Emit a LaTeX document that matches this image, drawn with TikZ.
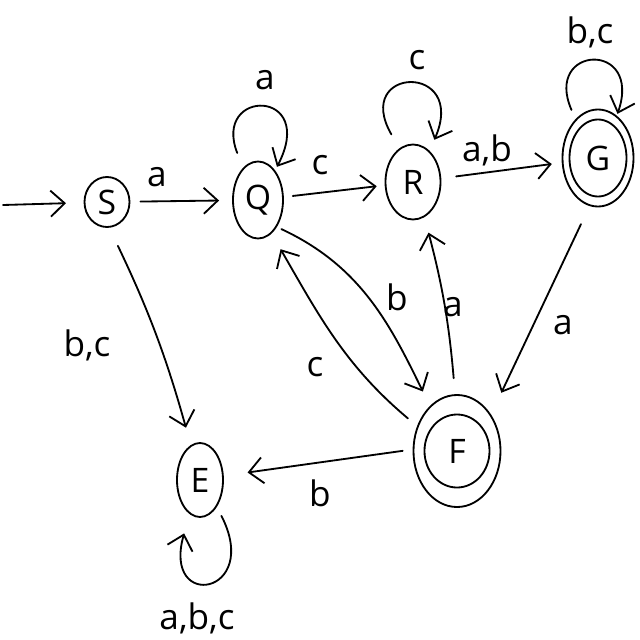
\documentclass[tikz,border=0pt]{standalone}
\usepackage{fontspec}
\setmainfont{Open Sans}
\usetikzlibrary{arrows.meta, shapes.geometric}

\begin{document}
\begin{tikzpicture}[x=0.025cm, y=-0.025cm, line width=1.3pt, line cap=round, line join=round,
      st/.style={draw, ellipse, inner sep=0pt, font=\fontsize{24}{28}\selectfont},
      ring/.style={draw, ellipse, inner sep=0pt},
      lbl/.style={font=\fontsize{25}{30}\selectfont, inner sep=0pt},
      tr/.style={-{Straight Barb[length=3.5mm, width=6.5mm]}, shorten <=2mm, shorten >=2mm}]

    \useasboundingbox (0,0) rectangle (640,640);

    % states
    \node[st, minimum width=11.25mm, minimum height=12.5mm]  (S) at (107,202) {S};
    \node[st, minimum width=12.5mm,  minimum height=19.25mm] (Q) at (258,200) {Q};
    \node[st, minimum width=13.75mm, minimum height=18.75mm] (R) at (413,182) {R};
    \node[st, minimum width=17.75mm, minimum height=24.25mm] (G) at (598,158) {G};
    \node[ring, minimum width=14.25mm, minimum height=19.25mm] (G-in) at (G) {};
    \node[st, minimum width=21.75mm, minimum height=28mm]    (F) at (457,451) {F};
    \node[ring, minimum width=16.25mm, minimum height=18.25mm] (F-in) at (F) {};
    \node[st, minimum width=11.5mm,  minimum height=18.5mm]  (E) at (200,480) {E};
    \coordinate (start) at (3,205);

    % top row
    \draw[tr, shorten <=0pt, shorten >=4.4mm] (start) -- (S);
    \draw[tr, shorten <=2.5mm, shorten >=3.25mm] (S) -- (Q)
      node[lbl] (l-sq) at (157,177) {a};
    \draw[tr, shorten <=2.25mm, shorten >=2mm] (Q) -- (R)
      node[lbl] (l-qr) at (320,165) {c};
    \draw[tr, shorten <=3.75mm, shorten >=2.5mm] (R) -- (G)
      node[lbl] (l-rg) at (487,150) {a,b};

    % self loops
    \draw[tr, shorten <=4mm, shorten >=1mm] (Q.115) .. controls (212,88) and (318,88) .. (Q.60)
      node[lbl] (l-qq) at (265,80) {a};
    \draw[tr, shorten <=4mm, shorten >=3mm] (R.112) .. controls (352,66) and (468,62) .. (R.62)
      node[lbl] (l-rr) at (417,60) {c};
    \draw[tr, shorten <=2.5mm, shorten >=0.5mm] (G.120) .. controls (543,45) and (643,40) .. (G.66)
      node[lbl] (l-gg) at (590,32) {b,c};
    \draw[tr, shorten <=2.5mm, shorten >=5mm] (E.-58) .. controls (262,595) and (162,612) .. (E.-107)
      node[lbl] (l-ee) at (197,618) {a,b,c};

    % edges down to F and E
    \draw[tr, shorten <=5mm, shorten >=4.5mm] (S.-85) to[bend left=5] (E)
      node[lbl] (l-se) at (87,345) {b,c};
    \draw[tr, shorten <=1.25mm, shorten >=4mm] (Q.-55) to[out=-25, in=116] (F.121)
      node[lbl] (l-qf) at (397,297) {b};
    \draw[tr, shorten <=3mm, shorten >=4.5mm] (F.148) to[out=140, in=-60] (Q.-68)
      node[lbl] (l-fq) at (315,367) {c};
    \draw[tr, shorten <=4mm, shorten >=4mm] (F.92) to[bend right=5] (R.-72)
      node[lbl] (l-fr) at (453,307) {a};
    \draw[tr, shorten <=5mm, shorten >=6mm] (G.-100) -- (F.47)
      node[lbl] (l-gf) at (563,325) {a};
    \draw[tr, shorten <=2.5mm, shorten >=6mm] (F.178) -- (E.10)
      node[lbl] (l-fe) at (320,493) {b};

    \end{tikzpicture}
\end{document}
